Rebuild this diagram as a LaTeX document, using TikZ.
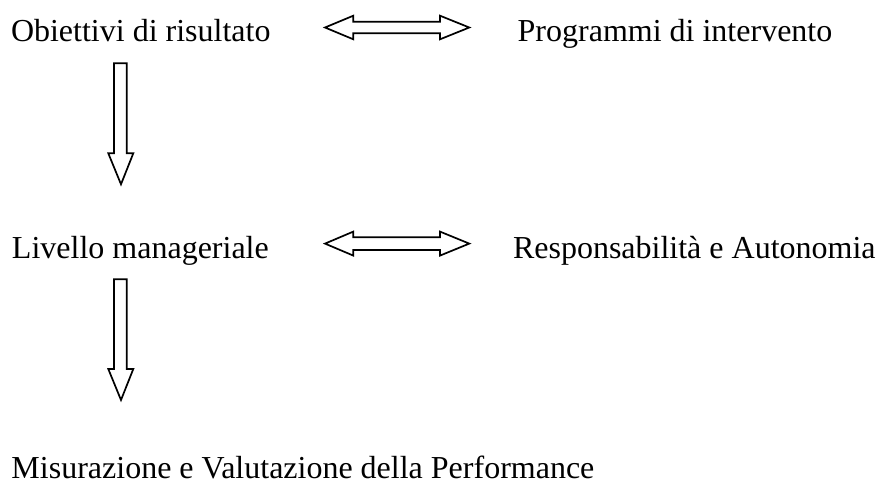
\documentclass[tikz,border=0pt]{standalone}
\usepackage{fontspec}
\setmainfont{Liberation Serif}
\begin{document}
\begin{tikzpicture}[x=1pt,y=-1pt,
  lbl/.style={anchor=base west,inner sep=0pt,text depth=0pt,font=\fontsize{32}{38}\selectfont},
  blockarrow/.style={draw=black,fill=white,line width=1.7pt,line join=miter}]
\useasboundingbox (0,0) rectangle (881,482);
% text nodes
\node[lbl] (obj) at (10.8,41.7) {Obiettivi di risultato};
\node[lbl] (prog) at (517.5,41.7) {Programmi di intervento};
\node[lbl] (liv) at (11.8,258.3) {Livello manageriale};
\node[lbl] (resp) at (512.8,258.3) {Responsabilità e Autonomia};
\node[lbl] (mis) at (11.3,478.5) {Misurazione e Valutazione della Performance};
% horizontal double arrows
\foreach \cy/\hh/\sh in {27.5/11.8/5.8, 243.6/12/6.3}{
  \draw[blockarrow] (325,\cy) -- (353.3,\cy-\hh) -- (353.3,\cy-\sh) -- (440,\cy-\sh)
    -- (440,\cy-\hh) -- (469.3,\cy) -- (440,\cy+\hh) -- (440,\cy+\sh)
    -- (353.3,\cy+\sh) -- (353.3,\cy+\hh) -- cycle;
}
% vertical down arrows
\foreach \top/\base/\tip in {63.3/153.3/184.3, 279.3/369/400}{
  \draw[blockarrow] (114,\top) -- (126.7,\top) -- (126.7,\base) -- (133.3,\base)
    -- (121,\tip) -- (108.3,\base) -- (114,\base) -- cycle;
}
\end{tikzpicture}
\end{document}
